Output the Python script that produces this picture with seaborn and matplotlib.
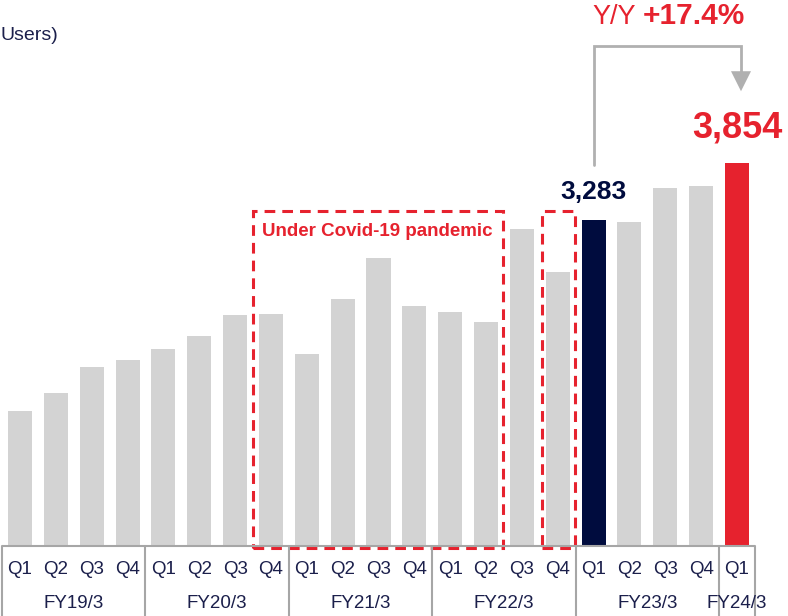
import matplotlib
matplotlib.use("Agg")
import matplotlib.pyplot as plt
import seaborn as sns
import pandas as pd
from matplotlib.patches import Rectangle, FancyArrowPatch

# ---- data ----
fiscal_years = ["FY19/3", "FY20/3", "FY21/3", "FY22/3", "FY23/3", "FY24/3"]
quarters_per_year = [4, 4, 4, 4, 4, 1]
quarter_labels = ["Q1", "Q2", "Q3", "Q4"]
values = [1354, 1535, 1798, 1869,
          1980, 2111, 2323, 2333,
          1929, 2488, 2899, 2414,
          2354, 2253, 3192, 2761,
          3283, 3263, 3606, 3626,
          3854]
highlight_prev = 3283
highlight_curr = 3854
yoy_text = "+17.4%"
unit_text = "Users)"
covid_text = "Under Covid-19 pandemic"

# ---- styles ----
GRAY = "#d3d3d3"
NAVY = "#000c3e"
RED = "#e6222e"
TEXT = "#1b1f4b"
LINE = "#a6a6a6"

sns.set_theme(style="white")
plt.rcParams["font.family"] = ["Liberation Sans", "DejaVu Sans"]

cats, qlabs, fylabs = [], [], []
for fy, n in zip(fiscal_years, quarters_per_year):
    for q in quarter_labels[:n]:
        cats.append(f"{fy} {q}")
        qlabs.append(q)
        fylabs.append(fy)
n_bars = len(values)
colors = [GRAY] * n_bars
colors[16] = NAVY
colors[20] = RED
df = pd.DataFrame({"cat": cats, "value": values})

W, H = 788, 616
PITCH = 35.85
X0 = 20.0
BASE = 545.0
SCALE = 0.099  # px per unit

fig = plt.figure(figsize=(W / 100, H / 100), dpi=100)
ax = fig.add_axes([0, (H - BASE) / H, 1, BASE / H])
sns.barplot(data=df, x="cat", y="value", hue="cat", palette=colors,
            legend=False, width=0.67, saturation=1, ax=ax, linewidth=0)
ax.set_xlim(-X0 / PITCH, (W - X0) / PITCH)
ax.set_ylim(0, BASE / SCALE)
ax.axis("off")


def py(ypx):
    return (BASE - ypx) / SCALE


def px(xpx):
    return (xpx - X0) / PITCH


# category table
ax.plot([-0.5, n_bars - 0.5], [py(546), py(546)], color=LINE, lw=1.5,
        clip_on=False, solid_capstyle="butt")
bounds = [-0.5]
acc = -0.5
for n in quarters_per_year:
    acc += n
    bounds.append(acc)
for b in bounds:
    ax.plot([b, b], [py(546), py(620)], color=LINE, lw=1.5, clip_on=False)
for i, q in enumerate(qlabs):
    ax.text(i, py(569), q, ha="center", va="center", fontsize=13.5,
            color=TEXT)
start = 0
for fy, n in zip(fiscal_years, quarters_per_year):
    ax.text(start + (n - 1) / 2, py(603), fy, ha="center", va="center",
            fontsize=13.5, color=TEXT)
    start += n

# value labels
ax.text(16, py(192), f"{highlight_prev:,}", ha="center", va="center",
        fontsize=19, fontweight="bold", color=NAVY)
ax.text(20, py(128), f"{highlight_curr:,}", ha="center", va="center",
        fontsize=26, fontweight="bold", color=RED)

# Y/Y arrow
ax.plot([16, 16, px(741), px(741)], [py(165), py(46), py(46), py(80)],
        color="#b0b0b0", lw=2, clip_on=False, solid_joinstyle="miter")
arrow = FancyArrowPatch((px(741), py(78)), (px(741), py(94)),
                        arrowstyle="-|>,head_width=0.45,head_length=0.9",
                        mutation_scale=16, color="#b0b0b0", lw=0,
                        clip_on=False)
ax.add_patch(arrow)
ax.text(px(592), py(17), "Y/Y", ha="left", va="center",
        fontsize=19.5, color=RED)
ax.text(px(643), py(16), yoy_text, ha="left", va="center", fontsize=21.5,
        fontweight="bold", color=RED)

# unit label (reference shows only the end of it)
ax.text(px(0.5), py(36), unit_text, ha="left", va="center", fontsize=14,
        color=TEXT)

# covid rectangles
for (xl, xr) in [(253, 503), (542, 575)]:
    r = Rectangle((px(xl), py(548)), px(xr) - px(xl), py(211) - py(548),
                  fill=False, edgecolor=RED, lw=2.2, linestyle=(0, (3.5, 2.3)),
                  clip_on=False)
    ax.add_patch(r)
ax.text(px(377), py(231), covid_text, ha="center", va="center",
        fontsize=13.5, fontweight="bold", color=RED)

fig.savefig("out.png", dpi=100)
